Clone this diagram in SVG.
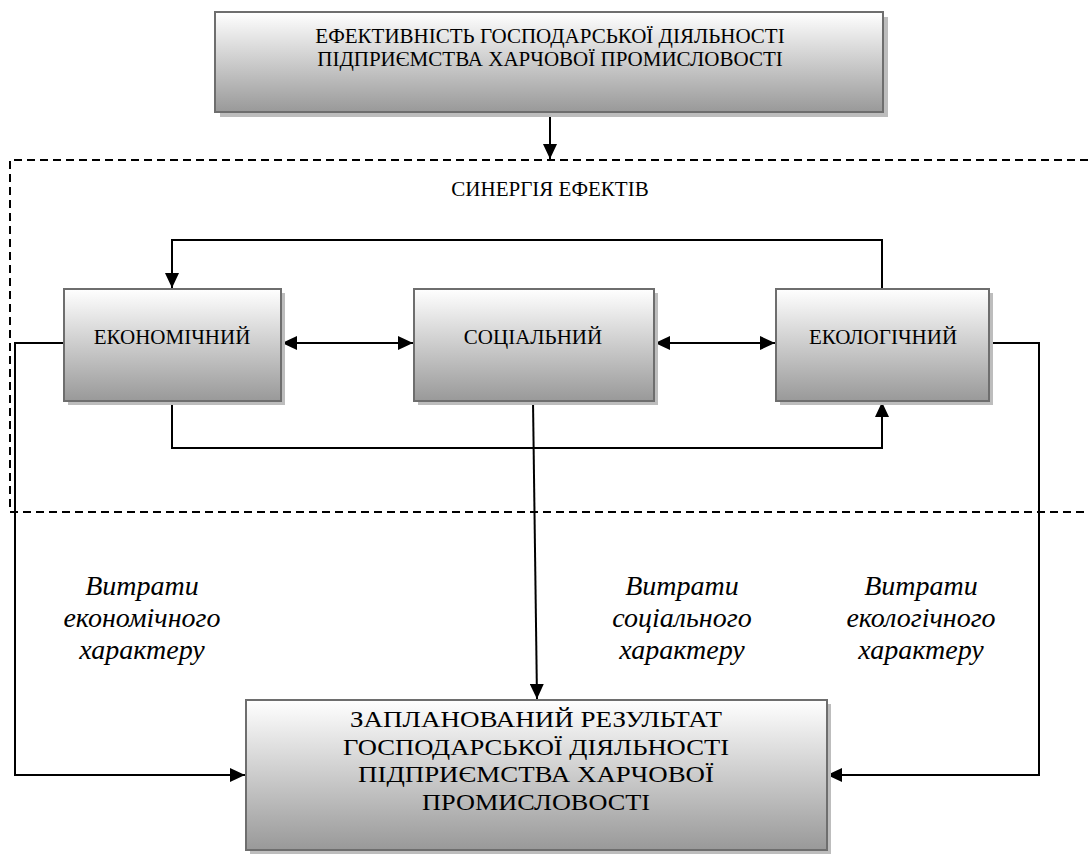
<svg xmlns="http://www.w3.org/2000/svg" width="1088" height="855" viewBox="0 0 1088 855">
<style>
.box{fill:url(#g);stroke:#6e6e6e;stroke-width:2}
.sh{fill:#bdbdbd}
.t{font-family:"Liberation Serif","Times New Roman",serif;fill:#000;text-anchor:middle}
.it{font-family:"Liberation Serif","Times New Roman",serif;font-style:italic;font-size:28px;fill:#000;text-anchor:middle}
.ln{fill:none;stroke:#000;stroke-width:2}
.dash{fill:none;stroke:#000;stroke-width:2;stroke-dasharray:8 5}
</style>
<defs>
<linearGradient id="g" x1="0" y1="0" x2="0" y2="1">
<stop offset="0" stop-color="#ffffff"/>
<stop offset="1" stop-color="#999999"/>
</linearGradient>
<marker id="b" viewBox="0 0 15 14" refX="15" refY="7" markerWidth="15" markerHeight="14" markerUnits="userSpaceOnUse" orient="auto-start-reverse">
<path d="M0,0 L15,7 L0,14 z" fill="#000"/>
</marker>
</defs>
<rect width="1088" height="855" fill="#fff"/>

<g id="frame">
<path class="dash" d="M1088,160 H10 V512 H1088"/>
<text class="t" x="550" y="196" font-size="21">СИНЕРГІЯ ЕФЕКТІВ</text>
</g>

<g id="connectors">
<path class="ln" d="M550,112 V159" marker-end="url(#b)"/>
<path class="ln" d="M882,289 V240 H172 V288" marker-end="url(#b)"/>
<path class="ln" d="M172,401 V448 H882 V402" marker-end="url(#b)"/>
<path class="ln" d="M282,343 H413" marker-start="url(#b)" marker-end="url(#b)"/>
<path class="ln" d="M655,343 H775" marker-start="url(#b)" marker-end="url(#b)"/>
<path class="ln" d="M533,401 L537,699" marker-end="url(#b)"/>
<path class="ln" d="M64,343 H15 V775 H245" marker-end="url(#b)"/>
<path class="ln" d="M989,343 H1039 V775 H827" marker-end="url(#b)"/>
</g>

<g id="top">
<rect class="sh" x="220" y="17" width="668" height="100"/>
<rect class="box" x="215" y="12" width="668" height="100"/>
<text class="t" x="550" y="43" font-size="21">ЕФЕКТИВНІСТЬ ГОСПОДАРСЬКОЇ ДІЯЛЬНОСТІ</text>
<text class="t" x="550" y="66" font-size="21">ПІДПРИЄМСТВА ХАРЧОВОЇ ПРОМИСЛОВОСТІ</text>
</g>

<g id="econ">
<rect class="sh" x="68" y="293" width="217" height="112"/>
<rect class="box" x="64" y="289" width="217" height="112"/>
<text class="t" x="172" y="344" font-size="21">ЕКОНОМІЧНИЙ</text>
</g>

<g id="social">
<rect class="sh" x="418" y="293" width="240" height="112"/>
<rect class="box" x="414" y="289" width="240" height="112"/>
<text class="t" x="533" y="344" font-size="21">СОЦІАЛЬНИЙ</text>
</g>

<g id="ecol">
<rect class="sh" x="780" y="293" width="213" height="112"/>
<rect class="box" x="776" y="289" width="213" height="112"/>
<text class="t" x="883" y="344" font-size="21">ЕКОЛОГІЧНИЙ</text>
</g>

<g id="result">
<rect class="sh" x="250" y="704" width="581" height="150"/>
<rect class="box" x="246" y="700" width="581" height="150"/>
<text class="t" x="536" y="727" font-size="23.5" textLength="372" lengthAdjust="spacingAndGlyphs">ЗАПЛАНОВАНИЙ РЕЗУЛЬТАТ</text>
<text class="t" x="536" y="754.5" font-size="23.5" textLength="386" lengthAdjust="spacingAndGlyphs">ГОСПОДАРСЬКОЇ ДІЯЛЬНОСТІ</text>
<text class="t" x="536" y="782" font-size="23.5" textLength="356" lengthAdjust="spacingAndGlyphs">ПІДПРИЄМСТВА ХАРЧОВОЇ</text>
<text class="t" x="536" y="809.5" font-size="23.5" textLength="228" lengthAdjust="spacingAndGlyphs">ПРОМИСЛОВОСТІ</text>
</g>

<g id="labels">
<text class="it" x="142" y="595">Витрати</text>
<text class="it" x="142" y="627">економічного</text>
<text class="it" x="142" y="659">характеру</text>
<text class="it" x="682" y="595">Витрати</text>
<text class="it" x="682" y="627">соціального</text>
<text class="it" x="682" y="659">характеру</text>
<text class="it" x="921" y="595">Витрати</text>
<text class="it" x="921" y="627">екологічного</text>
<text class="it" x="921" y="659">характеру</text>
</g>
</svg>
